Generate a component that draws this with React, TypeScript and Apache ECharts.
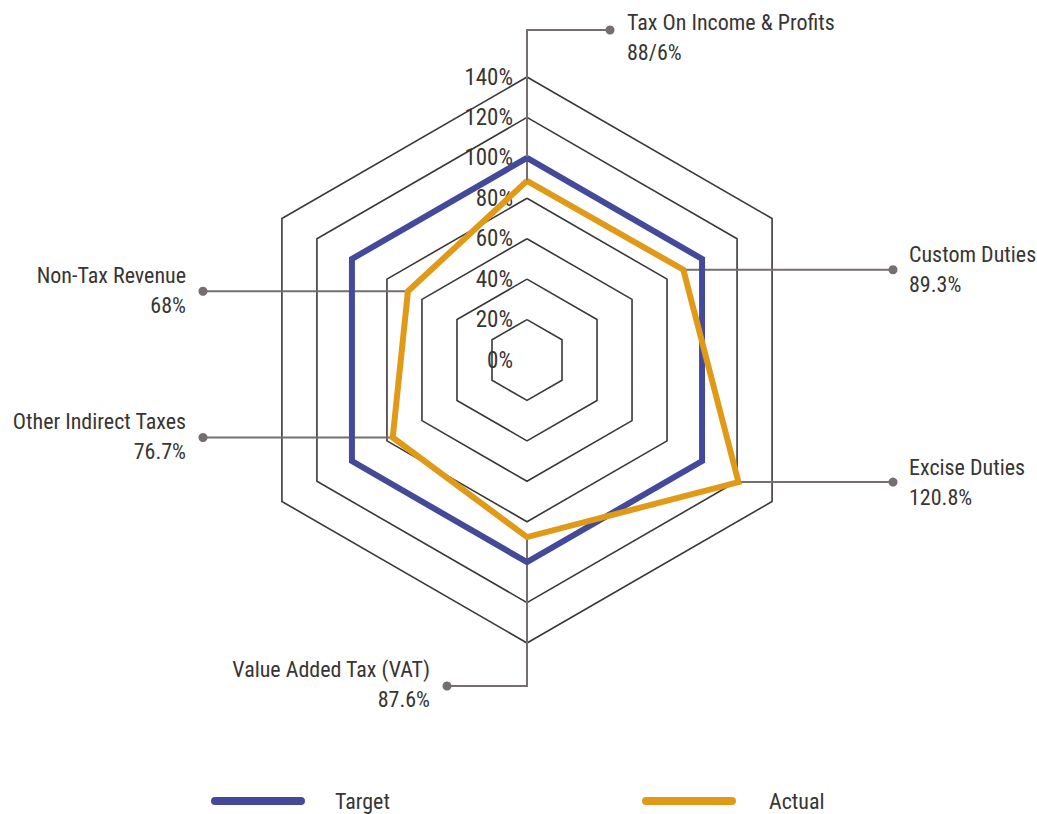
import React, { useEffect, useRef } from "react";
import * as echarts from "echarts";

// Data (clockwise order starting at the top)
const categories = [
  "Tax On Income & Profits",
  "Custom Duties",
  "Excise Duties",
  "Value Added Tax (VAT)",
  "Other Indirect Taxes",
  "Non-Tax Revenue",
];
const targetValues = [100, 100, 100, 100, 100, 100];
const actualValues = [88.6, 89.3, 120.8, 87.6, 76.7, 68];
const valueLabels = ["88/6%", "89.3%", "120.8%", "87.6%", "76.7%", "68%"];
const axisMin = 0;
const axisMax = 140;
const axisStep = 20;
const seriesNames = ["Target", "Actual"];

const FONT = "'Roboto Condensed', 'Liberation Sans Narrow', 'DejaVu Sans Condensed', Roboto, sans-serif";
const TEXT = "#383535";
const LEAD = "#756e6e";
const BLUE = "#434a9a";
const ORANGE = "#e09a17";

const CX = 527;
const CY = 360;
const R = 283;

// echarts radar goes counter-clockwise; reorder so it reads clockwise
const ccwOrder = [0, 5, 4, 3, 2, 1];

function pointOf(i: number, v: number) {
  const ang = ((90 - 60 * i) * Math.PI) / 180;
  const r = (R * (v - axisMin)) / (axisMax - axisMin);
  return [CX + r * Math.cos(ang), CY - r * Math.sin(ang)];
}

export default function App() {
  const ref = useRef<HTMLDivElement>(null);
  useEffect(() => {
    if (!ref.current) return;
    const chart = echarts.init(ref.current, null, { renderer: "svg" });

    const graphics: any[] = [];
    const textStyle = (text: string, align: string) => ({
      text,
      fill: TEXT,
      fontSize: 22,
      fontFamily: FONT,
      align,
      textAlign: align,
      verticalAlign: "middle",
      textVerticalAlign: "middle",
      lineHeight: 30,
    });
    categories.forEach((name, i) => {
      const [px, py] = pointOf(i, actualValues[i]);
      let pts: number[][];
      let dot: number[];
      let tx: number;
      let ty: number;
      let align: string;
      if (i === 0) {
        dot = [610, 30];
        pts = [[px, py], [px, dot[1]], dot];
        tx = dot[0] + 17; ty = 37; align = "left";
      } else if (i === 3) {
        dot = [447, 686];
        pts = [[px, py], [px, dot[1]], dot];
        tx = dot[0] - 17; ty = dot[1] - 2; align = "right";
      } else if (i === 1 || i === 2) {
        dot = [893, py];
        pts = [[px, py], dot];
        tx = dot[0] + 16; ty = py; align = "left";
      } else {
        dot = [203, py];
        pts = [[px, py], dot];
        tx = dot[0] - 17; ty = py - 1; align = "right";
      }
      graphics.push({
        type: "polyline",
        z: 1,
        shape: { points: pts },
        style: { stroke: LEAD, lineWidth: 2, fill: null },
        silent: true,
      });
      graphics.push({
        type: "circle",
        z: 1,
        shape: { cx: dot[0], cy: dot[1], r: 4.5 },
        style: { fill: LEAD },
        silent: true,
      });
      graphics.push({
        type: "text",
        z: 1,
        x: tx,
        y: ty,
        style: textStyle(name + "\n" + valueLabels[i], align),
        silent: true,
      });
    });

    const indicator = ccwOrder.map((i, k) => {
      const ind: any = { name: categories[i], min: axisMin, max: axisMax };
      if (k === 0) {
        ind.axisLabel = {
          show: true,
          formatter: "{value}%",
          color: TEXT,
          fontSize: 23,
          fontFamily: FONT,
          margin: 14,
          showMinLabel: true,
          showMaxLabel: true,
        };
      }
      return ind;
    });

    const pill = "path://M4,0 H88 A4,4 0 0 1 88,8 H4 A4,4 0 0 1 4,0 Z";

    chart.setOption({
      animation: false,
      backgroundColor: "#ffffff",
      color: [BLUE, ORANGE],
      legend: [
        {
          data: [seriesNames[0]],
          left: 206,
          top: 785,
          icon: pill,
          itemWidth: 94,
          itemHeight: 9,
          selectedMode: false,
          textStyle: { color: TEXT, fontSize: 22, fontFamily: FONT, padding: [0, 0, 0, 25] },
        },
        {
          data: [seriesNames[1]],
          left: 637,
          top: 785,
          icon: pill,
          itemWidth: 94,
          itemHeight: 9,
          selectedMode: false,
          textStyle: { color: TEXT, fontSize: 22, fontFamily: FONT, padding: [0, 0, 0, 28] },
        },
      ],
      radar: {
        center: [CX, CY],
        radius: R,
        startAngle: 90,
        splitNumber: (axisMax - axisMin) / axisStep,
        shape: "polygon",
        indicator,
        axisName: { show: false },
        axisLine: { show: false },
        axisTick: { show: false },
        axisLabel: { show: false },
        splitArea: { show: false },
        splitLine: { lineStyle: { color: "#3a3838", width: 1.6 } },
      },
      graphic: graphics,
      series: [
        {
          type: "radar",
          z: 3,
          symbol: "none",
          data: [
            {
              name: seriesNames[0],
              value: ccwOrder.map((i) => targetValues[i]),
              lineStyle: { color: BLUE, width: 6, join: "miter" },
              itemStyle: { color: BLUE },
            },
            {
              name: seriesNames[1],
              value: ccwOrder.map((i) => actualValues[i]),
              lineStyle: { color: ORANGE, width: 6, join: "miter" },
              itemStyle: { color: ORANGE },
            },
          ],
        },
      ],
    });
    return () => chart.dispose();
  }, []);
  return (
    <div
      ref={ref}
      style={{ position: "fixed", left: 0, top: 0, width: 1037, height: 814, background: "#fff" }}
    />
  );
}
